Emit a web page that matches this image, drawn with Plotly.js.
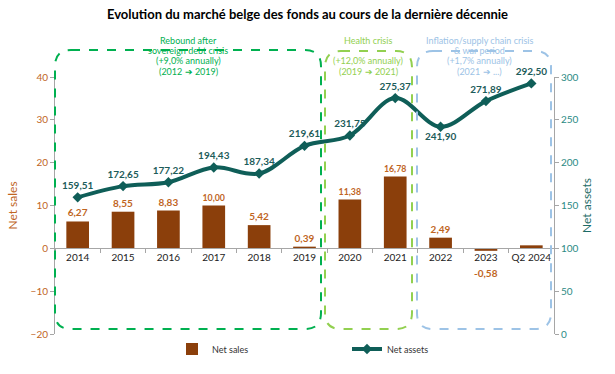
<!DOCTYPE html>
<html><head><meta charset="utf-8">
<script src="https://cdn.plot.ly/plotly-3.0.1.min.js"></script>
<style>body{margin:0;background:#fff}#c{width:615px;height:374px}</style>
</head><body><div id="c"></div>
<script>
const categories = ['2014','2015','2016','2017','2018','2019','2020','2021','2022','2023','Q2 2024'];
const netSales = [6.27, 8.55, 8.83, 10.00, 5.42, 0.39, 11.38, 16.78, 2.49, -0.58, 0.7];
const netSalesLabelShown = [true,true,true,true,true,true,true,true,true,true,false];
const netAssets = [159.51, 172.65, 177.22, 194.43, 187.34, 219.61, 231.75, 275.37, 241.90, 271.89, 292.50];
const assetsLabelPos = ['top center','top center','top center','top center','top center','top center','top center','top center','bottom center','top center','top center'];

const fmt = v => v.toFixed(2).replace('.', ',');
const FONT = 'Lato, "Open Sans", sans-serif';

// plot geometry in pixels
const W = 615, H = 374, ML = 55, MR = 61, MT = 77, MB = 39;
const PW = W - ML - MR, PH = H - MT - MB;
const px = x => (x - ML) / PW;
const py = y => (H - MB - y) / PH;

function roundRect(x0, y0, x1, y1, r) {
  const X0 = px(x0), X1 = px(x1), Y0 = py(y0), Y1 = py(y1);
  const rx = r / PW, ry = r / PH;
  return `M ${X0 + rx} ${Y0} L ${X1 - rx} ${Y0} Q ${X1} ${Y0} ${X1} ${Y0 - ry} ` +
         `L ${X1} ${Y1 + ry} Q ${X1} ${Y1} ${X1 - rx} ${Y1} L ${X0 + rx} ${Y1} ` +
         `Q ${X0} ${Y1} ${X0} ${Y1 + ry} L ${X0} ${Y0 - ry} Q ${X0} ${Y0} ${X0 + rx} ${Y0} Z`;
}

const GREEN = '#00B050', LGREEN = '#92D050', BLUE = '#9DC3E6';
const boxes = [
  {x0: 55, x1: 321, y0: 50, y1: 330, c: GREEN},
  {x0: 325, x1: 412, y0: 51, y1: 330, c: LGREEN},
  {x0: 417, x1: 551, y0: 51, y1: 330, c: BLUE}
];
const shapes = boxes.map(b => ({
  type: 'path', xref: 'paper', yref: 'paper', path: roundRect(b.x0, b.y0, b.x1, b.y1, 16),
  line: {color: b.c, width: 2, dash: 'dash'}, layer: 'above'
}));

const notes = [
  {x: 188, y: 40, t: 'Rebound after', c: GREEN},
  {x: 188, y: 50, t: 'sovereign debt crisis', c: GREEN},
  {x: 188, y: 60, t: '(+9,0% annually)', c: GREEN},
  {x: 188, y: 71, t: '(2012 \u2794 2019)', c: GREEN},
  {x: 368, y: 40, t: 'Health crisis', c: LGREEN},
  {x: 368, y: 60, t: '(+12,0% annually)', c: LGREEN},
  {x: 368, y: 71, t: '(2019 \u2794 2021)', c: LGREEN},
  {x: 479, y: 40, t: 'Inflation/supply chain crisis', c: BLUE},
  {x: 479, y: 50, t: '& war period', c: BLUE},
  {x: 479, y: 60, t: '(+1,7% annually)', c: BLUE},
  {x: 479, y: 71, t: '(2021 \u2794 ...)', c: BLUE}
];
const annotations = notes.map(n => ({
  xref: 'paper', yref: 'paper', x: px(n.x), y: py(n.y), text: n.t, showarrow: false,
  xanchor: 'center', yanchor: 'middle', font: {family: FONT, size: 9, color: n.c}
}));
// negative net-sales labels go below the category labels
netSales.forEach((v, i) => {
  if (v < 0 && netSalesLabelShown[i]) {
    annotations.push({x: i, y: v, xref: 'x', yref: 'y', text: fmt(v), showarrow: false,
      yanchor: 'top', yshift: -14, font: {family: FONT, size: 10, color: '#C0651F', weight: 'bold'}});
  }
});

const traces = [
  {
    type: 'bar', name: 'Net sales', x: categories, y: netSales, yaxis: 'y',
    marker: {color: '#8B3F0B'}, width: 0.5,
    text: netSales.map((v, i) => (netSalesLabelShown[i] && v >= 0) ? fmt(v) : ''),
    textposition: 'outside', cliponaxis: false,
    textfont: {family: FONT, size: 10, color: '#C0651F', weight: 'bold'},
    hoverinfo: 'skip'
  },
  {
    type: 'scatter', name: 'Net assets', x: categories, y: netAssets, yaxis: 'y2',
    mode: 'lines+markers+text',
    line: {color: '#0F5E58', width: 4, shape: 'spline', smoothing: 1},
    marker: {symbol: 'diamond', size: 8, color: '#0F5E58'},
    text: netAssets.map(fmt), textposition: assetsLabelPos, cliponaxis: false,
    textfont: {family: FONT, size: 10, color: '#1D5C5A', weight: 'bold'},
    hoverinfo: 'skip'
  }
];

const layout = {
  width: W, height: H,
  margin: {l: ML, r: MR, t: MT, b: MB},
  paper_bgcolor: '#fff', plot_bgcolor: '#fff',
  font: {family: FONT, size: 10, color: '#333'},
  title: {text: 'Evolution du marché belge des fonds au cours de la dernière décennie',
          x: 0.5, xref: 'container', y: 0.962, yanchor: 'middle',
          font: {family: FONT, size: 13, color: '#000', weight: 'bold'}},
  showlegend: true,
  legend: {orientation: 'h', x: px(172), xanchor: 'left', y: py(349), yanchor: 'middle',
           entrywidth: 130, entrywidthmode: 'pixels', itemwidth: 30,
           font: {family: FONT, size: 9, color: '#333'}, bgcolor: 'rgba(0,0,0,0)'},
  xaxis: {type: 'category', anchor: 'free', position: 20 / 60, range: [-0.5, categories.length - 0.5],
          showline: true, linecolor: '#A6A6A6', linewidth: 1, tickangle: 0,
          ticks: 'outside', tickson: 'boundaries', ticklen: 4, tickcolor: '#A6A6A6',
          tickfont: {family: FONT, size: 10, color: '#222'}, showgrid: false, fixedrange: true},
  yaxis: {range: [-20, 40], tickvals: [-20, -10, 0, 10, 20, 30, 40], showgrid: false, zeroline: false,
          showline: true, linecolor: '#A6A6A6', ticks: 'outside', ticklen: 4, tickcolor: '#A6A6A6',
          tickfont: {family: FONT, size: 10, color: '#C0651F'},
          title: {text: 'Net sales', standoff: 10, font: {family: FONT, size: 12, color: '#C0651F'}}},
  yaxis2: {range: [0, 300], tickvals: [0, 50, 100, 150, 200, 250, 300], overlaying: 'y', side: 'right',
           showgrid: false, zeroline: false, showline: true, linecolor: '#A6A6A6',
           ticks: 'outside', ticklen: 4, tickcolor: '#A6A6A6',
           tickfont: {family: FONT, size: 10, color: '#2A8A84'},
           title: {text: 'Net assets', standoff: 4, font: {family: FONT, size: 12, color: '#1D6B66'}}},
  shapes: shapes,
  annotations: annotations
};

Plotly.newPlot('c', traces, layout, {displayModeBar: false, staticPlot: true});
</script></body></html>
